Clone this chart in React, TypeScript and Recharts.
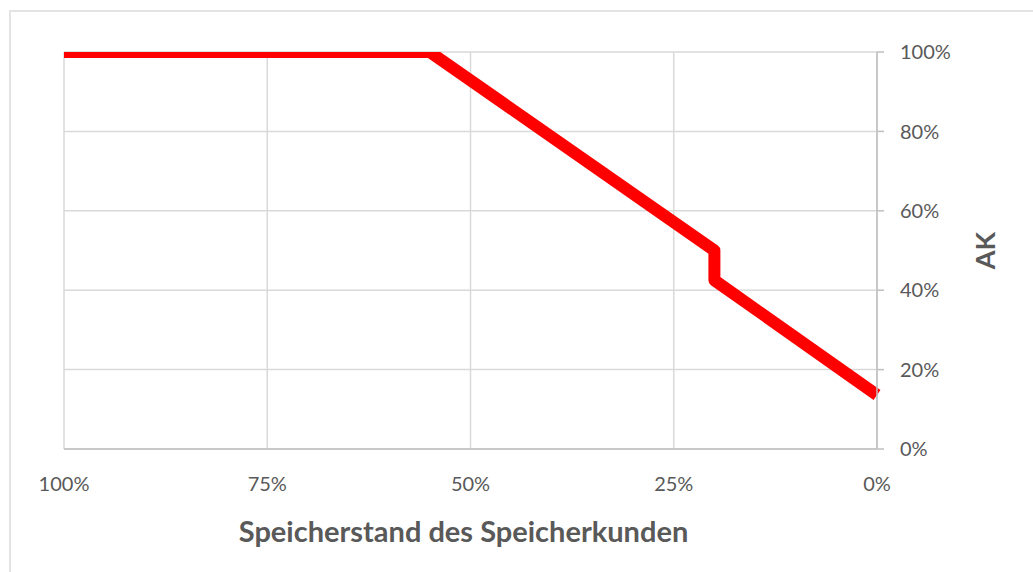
import { CartesianGrid, Label, Line, LineChart, XAxis, YAxis } from "recharts";

// Speicherstand (x, %) -> AK (y, %)
const storageLevels = [100, 55, 20, 20, 0];
const akValues = [100, 100, 50, 42.5, 13.6];
const xTicks = [0, 25, 50, 75, 100];
const yTicks = [0, 20, 40, 60, 80, 100];

const chartData = storageLevels.map((x, i) => ({ x, ak: akValues[i] }));

const textColor = "#595959";
const fontFamily = "Lato, 'Open Sans', sans-serif";

export default function App() {
  return (
    <div
      style={{
        position: "absolute",
        left: 0,
        top: 0,
        width: 1033,
        height: 572,
        overflow: "hidden",
        background: "#fff",
      }}
    >
      <div
        style={{
          position: "absolute",
          left: 9,
          top: 10,
          width: 1040,
          height: 600,
          border: "2px solid #e3e3e3",
        }}
      />
      <LineChart
        width={1033}
        height={572}
        data={chartData}
        margin={{ top: 52, right: 56, left: 64, bottom: 63 }}
        style={{ position: "absolute", left: 0, top: 0, fontFamily }}
      >
        <CartesianGrid stroke="#d9d9d9" strokeWidth={1.5} />
        <XAxis
          dataKey="x"
          type="number"
          domain={[0, 100]}
          ticks={xTicks}
          reversed
          tickFormatter={(v) => `${v}%`}
          tick={{ fontSize: 20, fill: textColor }}
          tickLine={false}
          tickMargin={22}
          axisLine={{ stroke: "#bfbfbf", strokeWidth: 1.5 }}
          height={60}
        >
          <Label
            value="Speicherstand des Speicherkunden"
            position="bottom"
            offset={12}
            dx={-7}
            style={{ fontSize: 29, fontWeight: 700, fill: textColor }}
          />
        </XAxis>
        <YAxis
          orientation="right"
          type="number"
          domain={[0, 100]}
          ticks={yTicks}
          allowDataOverflow
          tickFormatter={(v) => `${v}%`}
          tick={{ fontSize: 20, fill: textColor }}
          tickSize={7}
          tickMargin={16}
          tickLine={{ stroke: "#bfbfbf", strokeWidth: 1.5 }}
          axisLine={{ stroke: "#bfbfbf", strokeWidth: 1.5 }}
          width={100}
        >
          <Label
            value="AK"
            angle={-90}
            position="center"
            dx={58}
            style={{ fontSize: 27, fontWeight: 700, fill: textColor }}
          />
        </YAxis>
        <Line
          type="linear"
          dataKey="ak"
          stroke="#ff0000"
          strokeWidth={12}
          strokeLinejoin="round"
          dot={false}
          activeDot={false}
          isAnimationActive={false}
        />
      </LineChart>
    </div>
  );
}
